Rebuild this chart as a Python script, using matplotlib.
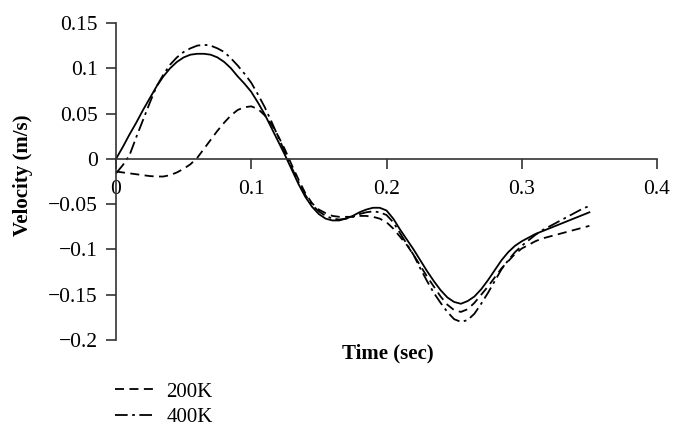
import numpy as np
import matplotlib
matplotlib.use("Agg")
import matplotlib.pyplot as plt

plt.rcParams['font.family'] = ['Liberation Serif', 'DejaVu Serif']

# time (sec), every 5 ms, and velocity (m/s)
t = np.linspace(0, 0.35, 71)

v_solid = [0.000, 0.013, 0.027, 0.040, 0.054, 0.067, 0.080, 0.091, 0.100, 0.107,
           0.112, 0.115, 0.116, 0.116, 0.115, 0.112, 0.107, 0.100, 0.091, 0.083,
           0.074, 0.062, 0.049, 0.034, 0.019, 0.004, -0.012, -0.028, -0.042, -0.053,
           -0.061, -0.066, -0.068, -0.068, -0.066, -0.063, -0.059, -0.056, -0.054, -0.054,
           -0.057, -0.066, -0.078, -0.089, -0.100, -0.112, -0.124, -0.135, -0.145, -0.153,
           -0.158, -0.160, -0.157, -0.152, -0.144, -0.134, -0.123, -0.112, -0.103, -0.096,
           -0.091, -0.087, -0.083, -0.080, -0.077, -0.074, -0.071, -0.068, -0.065, -0.062,
           -0.059]

v_200k = [-0.014, -0.015, -0.016, -0.017, -0.018, -0.019, -0.0195, -0.0195, -0.018, -0.015,
          -0.011, -0.006, 0.001, 0.011, 0.021, 0.031, 0.040, 0.048, 0.054, 0.057,
          0.058, 0.055, 0.048, 0.038, 0.025, 0.010, -0.007, -0.023, -0.038, -0.049,
          -0.056, -0.060, -0.063, -0.064, -0.064, -0.064, -0.063, -0.063, -0.064, -0.066,
          -0.070, -0.077, -0.086, -0.095, -0.106, -0.118, -0.130, -0.141, -0.152, -0.161,
          -0.167, -0.169, -0.166, -0.159, -0.150, -0.141, -0.131, -0.121, -0.113, -0.105,
          -0.099, -0.095, -0.091, -0.088, -0.086, -0.084, -0.082, -0.080, -0.078, -0.076,
          -0.074]

v_400k = [-0.016, -0.007, 0.004, 0.024, 0.043, 0.062, 0.080, 0.093, 0.104, 0.112,
          0.118, 0.122, 0.125, 0.126, 0.125, 0.122, 0.118, 0.111, 0.103, 0.094,
          0.084, 0.071, 0.057, 0.041, 0.024, 0.007, -0.010, -0.026, -0.040, -0.051,
          -0.058, -0.063, -0.066, -0.067, -0.066, -0.064, -0.061, -0.059, -0.058, -0.059,
          -0.062, -0.070, -0.082, -0.094, -0.106, -0.121, -0.135, -0.148, -0.159, -0.169,
          -0.177, -0.180, -0.178, -0.171, -0.160, -0.148, -0.135, -0.122, -0.112, -0.103,
          -0.096, -0.090, -0.084, -0.079, -0.075, -0.071, -0.067, -0.063, -0.059, -0.055,
          -0.052]

xticks = [0, 0.1, 0.2, 0.3, 0.4]
xtick_labels = ['0', '0.1', '0.2', '0.3', '0.4']
yticks = [-0.2, -0.15, -0.1, -0.05, 0, 0.05, 0.1, 0.15]
ytick_labels = ['\u22120.2', '\u22120.15', '\u22120.1', '\u22120.05', '0', '0.05', '0.1', '0.15']

W, H = 683, 440
fig = plt.figure(figsize=(W / 100, H / 100), dpi=100)
ax = fig.add_axes([116 / W, 1 - 340 / H, (657 - 116) / W, (340 - 23) / H])

lw = 1.3
l1, = ax.plot(t, v_200k, color='black', lw=lw, ls=(0, (5, 3)), label='200K', clip_on=False)
l2, = ax.plot(t, v_400k, color='black', lw=lw, ls=(0, (7, 2.5, 1.5, 2.5)), label='400K', clip_on=False)
ax.plot(t, v_solid, color='black', lw=lw, clip_on=False)

ax.set_xlim(0, 0.4)
ax.set_ylim(-0.2, 0.15)

ax.spines['top'].set_visible(False)
ax.spines['right'].set_visible(False)
ax.spines['bottom'].set_position(('data', 0))
for s in ['left', 'bottom']:
    ax.spines[s].set_color('#333333')
    ax.spines[s].set_linewidth(1.2)

ax.set_xticks(xticks)
ax.set_xticklabels(xtick_labels)
ax.set_yticks(yticks)
ax.set_yticklabels(ytick_labels)
ax.tick_params(axis='both', direction='out', length=7, width=1.2, color='#333333',
               labelsize=15.5)
ax.tick_params(axis='y', pad=6)
ax.tick_params(axis='x', pad=8)

fig.text(23 / W, 1 - 175 / H, 'Velocity (m/s)', rotation=90, fontsize=15,
         fontweight='bold', ha='center', va='center')
fig.text(388 / W, 1 - 353 / H, 'Time (sec)', fontsize=15, fontweight='bold',
         ha='center', va='center')

fig.legend(handles=[l1, l2], loc='upper left', bbox_to_anchor=(115 / W, 1 - 382 / H),
           frameon=False, fontsize=15, handlelength=1.85, handletextpad=0.62,
           borderpad=0, borderaxespad=0, labelspacing=0.3)

fig.savefig('out.png', dpi=100)
